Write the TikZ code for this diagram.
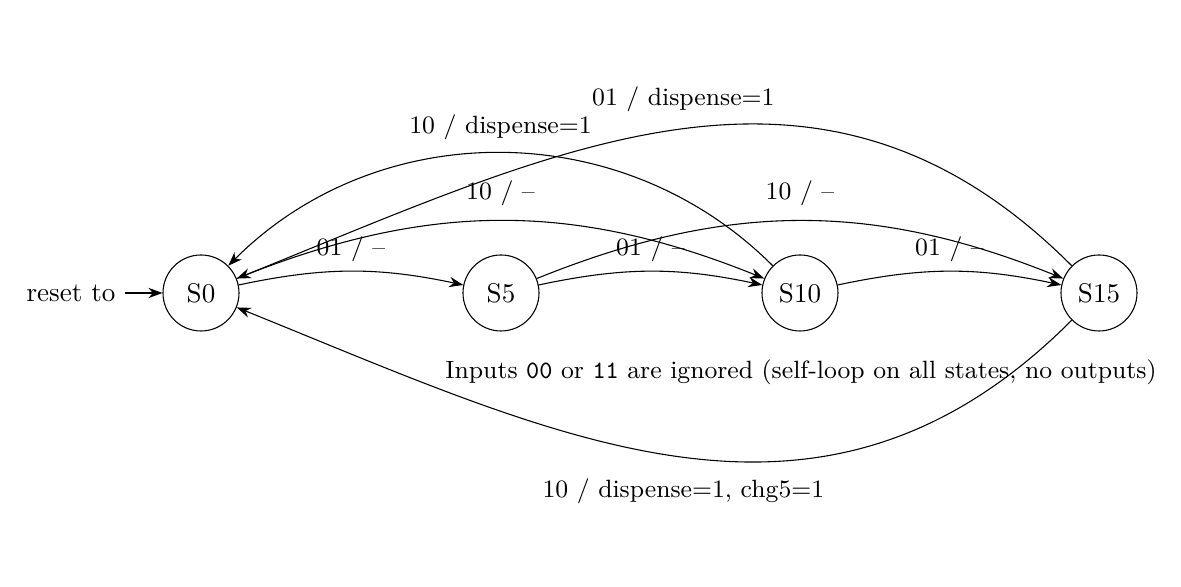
\documentclass[tikz,border=0pt]{standalone}
\usetikzlibrary{arrows.meta}
\begin{document}
\begin{tikzpicture}[x=0.013cm,y=0.013cm,
  >={Stealth[length=5.2pt,width=3.8pt]},
  st/.style={circle,draw,minimum size=0.988cm,inner sep=0pt},
  edge/.style={->},
  lab/.style={font=\fontsize{9.25}{11}\selectfont}]
\useasboundingbox (0,0) rectangle (1181,587);
\node[st] (S0) at (201,294) {S0};
\node[st] (S5) at (501,294) {S5};
\node[st] (S10) at (800,294) {S10};
\node[st] (S15) at (1099,294) {S15};
\node[anchor=east] (rst) at (125,294) {reset to};
\draw[edge] (rst) -- (S0);
\draw[edge] (S0) to[bend left=12] node[lab,above] {01 / --} (S5);
\draw[edge] (S5) to[bend left=12] node[lab,above] {01 / --} (S10);
\draw[edge] (S10) to[bend left=12] node[lab,above] {01 / --} (S15);
\draw[edge] (S0) to[bend left=22] node[lab,above=2pt] {10 / --} (S10);
\draw[edge] (S5) to[bend left=22] node[lab,above=2pt] {10 / --} (S15);
\draw[edge] (S10) to[bend right=45] node[lab,above=1.5pt] {10 / dispense=1} (S0);
\draw[edge] (S15) to[out=135,in=22,looseness=1.08] node[lab,above=3pt] {01 / dispense=1} (S0);
\draw[edge] (S15) to[out=225,in=-22,looseness=1.08] node[lab,below=4.5pt] {10 / dispense=1, chg5=1} (S0);
\node[lab] (note) at (801,215) {Inputs \texttt{00} or \texttt{11} are ignored (self-loop on all states, no outputs)};
\end{tikzpicture}
\end{document}
